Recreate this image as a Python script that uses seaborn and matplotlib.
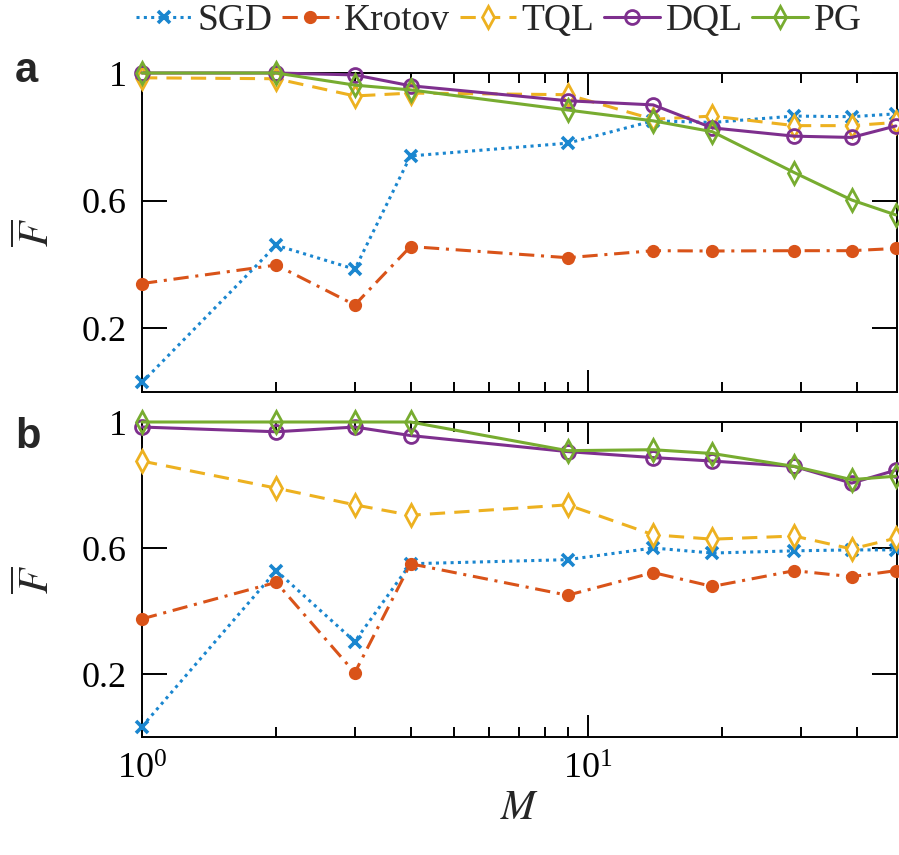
import numpy as np
import pandas as pd
import matplotlib
matplotlib.use("Agg")
import matplotlib.pyplot as plt
import seaborn as sns
from matplotlib.ticker import NullFormatter, FixedLocator

# ==========================================
# DATA
# ==========================================

M = [1, 2, 3, 4, 9, 14, 19, 29, 39, 49]
methods = ["SGD", "Krotov", "TQL", "DQL", "PG"]

# panel a
sgd_a = [0.03, 0.46, 0.385, 0.74, 0.78, 0.85, 0.845, 0.865, 0.863, 0.872]
krotov_a = [0.34, 0.398, 0.273, 0.456, 0.421, 0.443, 0.442, 0.443, 0.443, 0.45]
tql_a = [0.985, 0.982, 0.928, 0.937, 0.932, 0.855, 0.865, 0.835, 0.835, 0.845]
dql_a = [1.0, 1.0, 0.994, 0.96, 0.913, 0.9, 0.828, 0.802, 0.798, 0.834]
pg_a = [1.0, 1.0, 0.962, 0.947, 0.884, 0.85, 0.816, 0.688, 0.602, 0.555]

# panel b
sgd_b = [0.033, 0.528, 0.303, 0.55, 0.563, 0.6, 0.584, 0.591, 0.594, 0.594]
krotov_b = [0.375, 0.491, 0.204, 0.55, 0.45, 0.522, 0.478, 0.528, 0.509, 0.528]
tql_b = [0.876, 0.79, 0.737, 0.704, 0.737, 0.642, 0.628, 0.638, 0.597, 0.631]
dql_b = [0.984, 0.969, 0.984, 0.957, 0.906, 0.887, 0.876, 0.859, 0.806, 0.847]
pg_b = [1.0, 1.0, 1.0, 1.0, 0.909, 0.912, 0.9, 0.859, 0.817, 0.828]

panel_a = [sgd_a, krotov_a, tql_a, dql_a, pg_a]
panel_b = [sgd_b, krotov_b, tql_b, dql_b, pg_b]

y_ticks = [0.2, 0.6, 1.0]
y_ticklabels = ["0.2", "0.6", "1"]

# ==========================================
# STYLE
# ==========================================

sns.set_style("ticks")
plt.rcParams["font.family"] = ["Liberation Serif", "DejaVu Serif"]
plt.rcParams["mathtext.fontset"] = "stix"
plt.rcParams["axes.linewidth"] = 1.4

colors = {"SGD": "#1a86cf", "Krotov": "#D95319", "TQL": "#EDB120",
          "DQL": "#7E2F8E", "PG": "#77AC30"}

styles = {
    "SGD": dict(linestyle=(0, (1, 1.4)), marker="x", markersize=8,
                markeredgewidth=2.6, markerfacecolor="none"),
    "Krotov": dict(linestyle=(0, (5, 2.2, 1, 2.2)), marker="o", markersize=8,
                   markeredgewidth=1.5, markerfacecolor=colors["Krotov"]),
    "TQL": dict(linestyle=(0, (5, 3)), marker="d", markersize=11,
                markerfacecolor="white", markeredgewidth=2),
    "DQL": dict(linestyle="-", marker="o", markersize=10,
                markerfacecolor="none", markeredgewidth=2),
    "PG": dict(linestyle="-", marker="d", markersize=11,
               markerfacecolor="none", markeredgewidth=2),
}

# ==========================================
# PLOT
# ==========================================

fig = plt.figure(figsize=(8.99, 8.55), dpi=100)
ax_a = fig.add_axes([142 / 899, 1 - 392 / 855, 755 / 899, 319 / 855])
ax_b = fig.add_axes([142 / 899, 1 - 737 / 855, 755 / 899, 315 / 855])

for ax, series in [(ax_a, panel_a), (ax_b, panel_b)]:
    for name, vals in zip(methods, series):
        sns.lineplot(x=M, y=vals, ax=ax, legend=False, linewidth=2.2,
                     color=colors[name], markeredgecolor=colors[name],
                     clip_on=False, zorder=3, **styles[name])
    ax.set_xscale("log")
    ax.set_xlim(1, 49.3)
    ax.set_ylim(0, 1)
    ax.yaxis.set_major_locator(FixedLocator(y_ticks))
    ax.set_yticklabels(y_ticklabels)
    ax.xaxis.set_minor_formatter(NullFormatter())
    ax.tick_params(which="both", direction="in", top=True, right=True,
                   width=1.4, labelsize=26, colors="black")
    ax.tick_params(axis="y", which="major", length=18, pad=11)
    ax.tick_params(axis="x", which="major", length=16, pad=12)
    ax.tick_params(axis="x", which="minor", length=7)
    ax.set_ylabel(r"$\overline{F}$", fontsize=30)
    ax.yaxis.set_label_coords(-0.112, 0.5)
    for sp in ax.spines.values():
        sp.set_visible(True)
        sp.set_color("black")

ax_a.xaxis.set_major_formatter(NullFormatter())
ax_b.set_xlabel(r"$M$", fontsize=30, labelpad=2)

handles = ax_a.get_lines()[:len(methods)]
fig.legend(handles, methods, loc="center", bbox_to_anchor=(0.555, 0.976),
           ncol=5, frameon=False, fontsize=27, handlelength=1.5,
           handletextpad=0.15, columnspacing=0.25, borderaxespad=0)

fig.text(15 / 899, 1 - 71 / 855, "a", fontsize=30, fontweight="bold",
         family="Liberation Sans", va="center", ha="left")
fig.text(15 / 899, 1 - 437 / 855, "b", fontsize=30, fontweight="bold",
         family="Liberation Sans", va="center", ha="left")

fig.savefig("out.png", dpi=100)
